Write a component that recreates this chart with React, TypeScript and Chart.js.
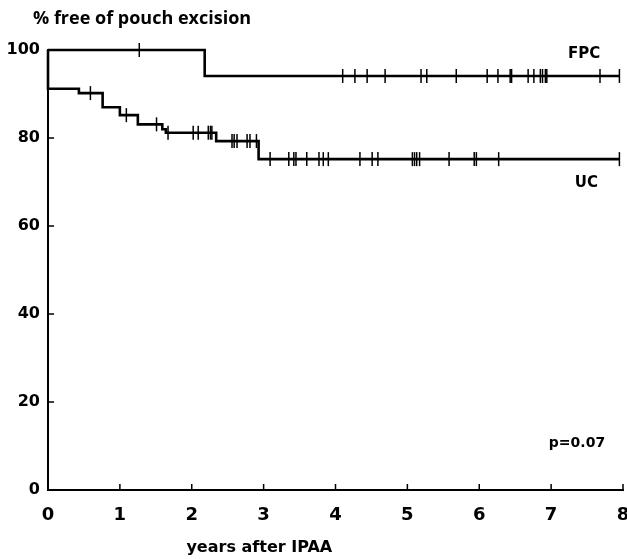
import React, { useEffect, useRef } from "react";
import { Chart, registerables } from "chart.js";

Chart.register(...registerables);

// ---- data ----
const xTickValues = [0, 1, 2, 3, 4, 5, 6, 7, 8];
const yTickValues = [0, 20, 40, 60, 80, 100];

// FPC: Kaplan-Meier step points (years, % free of pouch excision)
const fpcTimes = [0, 2.18, 7.95];
const fpcSurvival = [100, 94.1, 94.1];
const fpcCensored = [1.27, 4.1, 4.27, 4.44, 4.69, 5.19, 5.27, 5.68, 6.11, 6.26, 6.43, 6.45, 6.68, 6.76, 6.85, 6.88, 6.92, 6.94, 7.68, 7.95];

// UC
const ucTimes = [0, 0, 0.43, 0.76, 1.0, 1.25, 1.59, 1.64, 2.34, 2.93, 7.95];
const ucSurvival = [100, 91.2, 90.2, 87.0, 85.2, 83.1, 82.0, 81.2, 79.3, 75.2, 75.2];
const ucCensored = [0.59, 1.09, 1.51, 1.67, 2.02, 2.09, 2.23, 2.26, 2.28, 2.56, 2.59, 2.63, 2.77, 2.81, 2.9, 3.09, 3.35, 3.42, 3.45, 3.6, 3.77, 3.83, 3.9, 4.34, 4.51, 4.59, 5.07, 5.1, 5.13, 5.17, 5.58, 5.93, 5.96, 6.27, 7.95];

const yAxisTitle = "% free of pouch excision";
const xAxisTitle = "years after IPAA";
const seriesLabels = ["FPC", "UC"];
const pValueText = "p=0.07";

function survivalAt(times: number[], surv: number[], t: number): number {
  let s = surv[0];
  for (let i = 0; i < times.length; i++) if (times[i] <= t) s = surv[i];
  return s;
}

const BOLD = "'DejaVu Sans', sans-serif";

const annotationPlugin = {
  id: "kmAnnotations",
  afterDraw(chart: any) {
    const { ctx, chartArea, scales } = chart;
    const xs = scales.x;
    const ys = scales.y;
    ctx.save();
    // inward tick marks
    ctx.strokeStyle = "#000";
    ctx.lineWidth = 1.5;
    ctx.beginPath();
    xTickValues.forEach((v) => {
      if (v === 0) return;
      const px = xs.getPixelForValue(v);
      ctx.moveTo(px, chartArea.bottom);
      ctx.lineTo(px, chartArea.bottom - 6);
    });
    yTickValues.forEach((v) => {
      if (v === 0) return;
      const py = ys.getPixelForValue(v);
      ctx.moveTo(chartArea.left, py);
      ctx.lineTo(chartArea.left + 6, py);
    });
    ctx.stroke();

    ctx.fillStyle = "#000";
    // y title at top-left
    ctx.font = "bold 18px 'Open Sans', sans-serif";
    ctx.textAlign = "left";
    ctx.textBaseline = "alphabetic";
    ctx.fillText(yAxisTitle, 33, 24);

    // x title
    ctx.font = `bold 16px ${BOLD}`;
    ctx.textAlign = "center";
    ctx.textBaseline = "middle";
    ctx.fillText(xAxisTitle, xs.getPixelForValue(2.94), 548);

    // series labels
    ctx.font = `bold 15px ${BOLD}`;
    ctx.fillText(seriesLabels[0], xs.getPixelForValue(7.46), ys.getPixelForValue(99.1));
    ctx.fillText(seriesLabels[1], xs.getPixelForValue(7.49), ys.getPixelForValue(69.8));

    ctx.font = `bold 14px ${BOLD}`;
    ctx.fillText(pValueText, xs.getPixelForValue(7.36), ys.getPixelForValue(10.7));
    ctx.restore();
  },
};

export default function App() {
  const canvasRef = useRef<HTMLCanvasElement | null>(null);

  useEffect(() => {
    if (!canvasRef.current) return;
    const fpcLine = fpcTimes.map((t, i) => ({ x: t, y: fpcSurvival[i] }));
    const ucLine = ucTimes.map((t, i) => ({ x: t, y: ucSurvival[i] }));
    const fpcMarks = fpcCensored.map((t) => ({ x: t, y: survivalAt(fpcTimes, fpcSurvival, t) }));
    const ucMarks = ucCensored.map((t) => ({ x: t, y: survivalAt(ucTimes, ucSurvival, t) }));

    const markStyle = {
      showLine: false,
      pointStyle: "line",
      rotation: 90,
      pointRadius: 7,
      pointBorderWidth: 1.5,
      borderColor: "#000",
      backgroundColor: "#000",
      clip: false,
    };
    const lineStyle = {
      showLine: true,
      stepped: true,
      pointRadius: 0,
      borderWidth: 2.6,
      borderColor: "#000",
      fill: false,
      clip: false,
    };

    const chart = new Chart(canvasRef.current, {
      type: "scatter",
      data: {
        datasets: [
          { label: "FPC", data: fpcLine, ...lineStyle } as any,
          { label: "UC", data: ucLine, ...lineStyle } as any,
          { label: "FPC censored", data: fpcMarks, ...markStyle } as any,
          { label: "UC censored", data: ucMarks, ...markStyle } as any,
        ],
      },
      options: {
        animation: false,
        responsive: false,
        layout: { padding: { left: 0, right: 37, top: 50, bottom: 0 } },
        plugins: { legend: { display: false }, tooltip: { enabled: false }, title: { display: false } },
        scales: {
          x: {
            type: "linear",
            min: 0,
            max: 8,
            grid: { display: false, drawTicks: false },
            border: { display: true, color: "#000", width: 2 },
            ticks: {
              stepSize: 1,
              color: "#000",
              padding: 15,
              font: { family: BOLD, size: 18, weight: "bold" },
            },
            afterFit(scale: any) {
              scale.height = 69;
            },
          },
          y: {
            type: "linear",
            min: 0,
            max: 100,
            grid: { display: false, drawTicks: false },
            border: { display: true, color: "#000", width: 2 },
            ticks: {
              stepSize: 20,
              color: "#000",
              padding: 8,
              font: { family: BOLD, size: 16, weight: "bold" },
            },
            afterFit(scale: any) {
              scale.width = 48;
            },
          },
        },
      } as any,
      plugins: [annotationPlugin],
    });
    return () => chart.destroy();
  }, []);

  return (
    <div style={{ position: "absolute", left: 0, top: 0, width: 627, height: 559, overflow: "hidden", background: "#fff" }}>
      <canvas ref={canvasRef} width={660} height={559} style={{ display: "block" }} />
    </div>
  );
}
